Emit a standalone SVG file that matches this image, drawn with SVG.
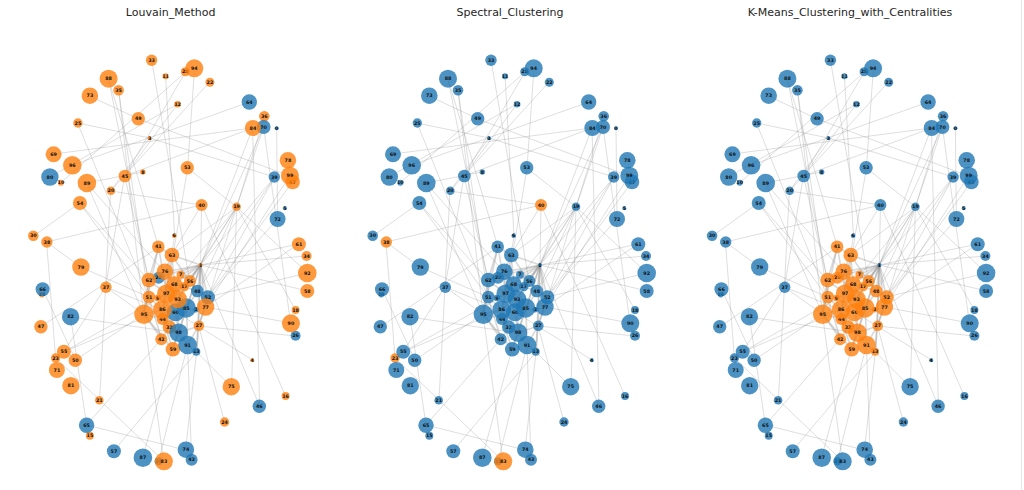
<svg xmlns="http://www.w3.org/2000/svg" width="1024" height="490" viewBox="0 0 1024 490">
<style>
.t{font-family:"DejaVu Sans",sans-serif;font-size:11px;fill:#262626;text-anchor:middle}
.b circle{fill:#1f77b4;fill-opacity:.8}
.o circle{fill:#ff7f0e;fill-opacity:.8}
text.l{font-family:"DejaVu Sans",sans-serif;font-size:4.8px;font-weight:bold;fill:#111;text-anchor:middle;dominant-baseline:central}
#E path{stroke:#888;stroke-opacity:.35;stroke-width:.8;fill:none}
#E path.h{stroke-width:1.6;stroke-opacity:.32}
</style>
<defs>
<g id="E">
<path d="M131 60L169 281"/><path d="M145 76L154 236"/><path d="M165 72L104 176"/><path d="M165 72L40 183"/><path d="M174 68L167 168"/><path d="M189 82L90 191"/><path d="M157 104L29 177"/><path d="M157 104L104 176"/><path d="M88 79L128 280"/><path d="M88 79L138 247"/><path d="M98 90L128 297"/><path d="M98 90L123 314"/><path d="M69 96L118 119"/><path d="M118 119L269 176"/><path d="M57 123L129 138"/><path d="M57 123L128 297"/><path d="M232 128L33 154"/><path d="M129 138L90 191"/><path d="M254 177L129 138"/><path d="M232 128L104 176"/><path d="M232 128L239 406"/><path d="M232 128L180 265"/><path d="M243 127L180 265"/><path d="M243 127L216 207"/><path d="M243 127L270 323"/><path d="M244 116L216 207"/><path d="M256 128L257 219"/><path d="M254 177L180 265"/><path d="M254 177L187 297"/><path d="M254 177L177 291"/><path d="M269 176L185 307"/><path d="M272 182L187 297"/><path d="M167 168L216 207"/><path d="M167 168L146 294"/><path d="M66 183L122 172"/><path d="M104 176L85 287"/><path d="M66 183L123 314"/><path d="M66 183L144 272"/><path d="M90 191L181 205"/><path d="M90 191L85 287"/><path d="M59 203L128 280"/><path d="M59 203L128 297"/><path d="M13 236L59 203"/><path d="M181 205L26 242"/><path d="M181 205L180 265"/><path d="M181 205L151 255"/><path d="M216 207L180 265"/><path d="M216 207L177 291"/><path d="M216 207L185 307"/><path d="M216 207L275 310"/><path d="M216 207L211 387"/><path d="M216 207L151 255"/><path d="M216 207L154 284"/><path d="M216 207L157 299"/><path d="M265 396L181 205"/><path d="M216 207L287 273"/><path d="M257 219L175 310"/><path d="M26 242L60 267"/><path d="M26 242L35 358"/><path d="M60 267L128 297"/><path d="M154 236L151 255"/><path d="M278 244L180 265"/><path d="M278 244L185 307"/><path d="M286 256L180 265"/><path d="M287 291L180 265"/><path d="M287 273L187 297"/><path d="M85 287L123 314"/><path d="M85 287L43 352"/><path d="M85 287L79 400"/><path d="M85 287L142 310"/><path d="M22 289L55 360"/><path d="M20 327L138 247"/><path d="M50 317L158 333"/><path d="M50 317L66 425"/><path d="M270 323L185 307"/><path d="M275 336L178 326"/><path d="M43 352L146 294"/><path d="M43 352L142 310"/><path d="M35 358L143 461"/><path d="M55 360L123 314"/><path d="M232 360L155 312"/><path d="M211 387L176 352"/><path d="M239 406L180 265"/><path d="M204 422L178 326"/><path d="M66 425L141 339"/><path d="M66 425L165 450"/><path d="M93 451L176 352"/><path d="M165 450L176 352"/><path d="M122 458L152 349"/><path d="M143 461L123 314"/><path d="M138 461L167 345"/><path d="M171 460L167 345"/><path d="M52 165L229 102"/><path d="M104 176L128 280"/>
<path class="h" d="M138 247L151 255"/><path class="h" d="M138 247L128 280"/><path class="h" d="M151 255L144 272"/><path class="h" d="M151 255L180 265"/><path class="h" d="M180 265L169 281"/><path class="h" d="M180 265L177 291"/><path class="h" d="M180 265L187 297"/><path class="h" d="M180 265L185 307"/><path class="h" d="M180 265L178 326"/><path class="h" d="M180 265L176 352"/><path class="h" d="M180 265L157 299"/><path class="h" d="M180 265L154 284"/><path class="h" d="M180 265L160 275"/><path class="h" d="M180 265L144 272"/><path class="h" d="M180 265L166 308"/><path class="h" d="M180 265L128 280"/><path class="h" d="M180 265L142 310"/><path class="h" d="M180 265L158 333"/><path class="h" d="M144 272L128 280"/><path class="h" d="M144 272L154 284"/><path class="h" d="M128 280L128 297"/><path class="h" d="M128 280L146 294"/><path class="h" d="M160 275L169 281"/><path class="h" d="M154 284L164 287"/><path class="h" d="M154 284L146 294"/><path class="h" d="M154 284L157 299"/><path class="h" d="M164 287L177 291"/><path class="h" d="M177 291L187 297"/><path class="h" d="M187 297L185 307"/><path class="h" d="M128 297L123 314"/><path class="h" d="M128 297L142 310"/><path class="h" d="M137 298L146 294"/><path class="h" d="M146 294L157 299"/><path class="h" d="M146 294L142 310"/><path class="h" d="M157 299L166 308"/><path class="h" d="M157 299L155 312"/><path class="h" d="M123 314L142 310"/><path class="h" d="M123 314L142 319"/><path class="h" d="M142 310L155 312"/><path class="h" d="M142 310L142 319"/><path class="h" d="M155 312L166 308"/><path class="h" d="M166 308L175 310"/><path class="h" d="M175 310L185 307"/><path class="h" d="M142 319L149 327"/><path class="h" d="M149 327L158 333"/><path class="h" d="M158 333L167 345"/><path class="h" d="M158 333L178 326"/><path class="h" d="M141 339L149 327"/><path class="h" d="M152 349L158 333"/><path class="h" d="M167 345L176 352"/><path class="h" d="M167 345L178 326"/><path class="h" d="M123 314L141 339"/><path class="h" d="M155 312L158 333"/><path class="h" d="M166 308L167 345"/><path class="h" d="M185 307L178 326"/><path class="h" d="M128 280L123 314"/><path class="h" d="M144 272L146 294"/><path class="h" d="M169 281L177 291"/><path class="h" d="M154 284L166 308"/><path class="h" d="M157 299L158 333"/><path class="h" d="M142 319L152 349"/><path class="h" d="M137 298L142 319"/><path class="h" d="M176 352L178 326"/><path class="h" d="M138 247L146 294"/><path class="h" d="M151 255L154 284"/><path class="h" d="M151 255L169 281"/><path class="h" d="M138 247L123 314"/><path class="h" d="M151 255L142 310"/><path class="h" d="M128 297L141 339"/><path class="h" d="M166 308L152 349"/><path class="h" d="M187 297L178 326"/><path class="h" d="M177 291L166 308"/><path class="h" d="M146 294L155 312"/><path class="h" d="M142 310L158 333"/><path class="h" d="M123 314L152 349"/>
</g>
</defs>

<text class="t" x="170.6" y="16">Louvain_Method</text>
<text class="t" x="510" y="16">Spectral_Clustering</text>
<text class="t" x="850" y="16">K-Means_Clustering_with_Centralities</text>

<g id="connectors">
<use href="#E" transform="translate(20.6,0)"/>
<use href="#E" transform="translate(360,0)"/>
<use href="#E" transform="translate(699.4,0)"/>
</g>

<g id="louvain" transform="translate(20.6,0)">
<g id="a0" class="b"><circle cx="256" cy="128.3" r="2"/><text class="l" x="256" y="128.3">0</text></g>
<g id="a1" class="o"><circle cx="180" cy="265" r="2"/><text class="l" x="180" y="265">1</text></g>
<g id="a2" class="b"><circle cx="175.3" cy="309.7" r="2.7"/><text class="l" x="175.3" y="309.7">2</text></g>
<g id="a3" class="o"><circle cx="129" cy="138.3" r="2"/><text class="l" x="129" y="138.3">3</text></g>
<g id="a4" class="o"><circle cx="231.7" cy="360.3" r="2"/><text class="l" x="231.7" y="360.3">4</text></g>
<g id="a5" class="b"><circle cx="264.3" cy="208.3" r="2"/><text class="l" x="264.3" y="208.3">5</text></g>
<g id="a6" class="o"><circle cx="153.7" cy="235.7" r="2.3"/><text class="l" x="153.7" y="235.7">6</text></g>
<g id="a7" class="o"><circle cx="160" cy="274.7" r="4"/><text class="l" x="160" y="274.7">7</text></g>
<g id="a8" class="o"><circle cx="122.3" cy="172" r="2.7"/><text class="l" x="122.3" y="172">8</text></g>
<g id="a9" class="o"><circle cx="137" cy="298" r="3.3"/><text class="l" x="137" y="298">9</text></g>
<g id="a10" class="o"><circle cx="40.3" cy="182.7" r="3"/><text class="l" x="40.3" y="182.7">10</text></g>
<g id="a11" class="o"><circle cx="145" cy="76.3" r="3"/><text class="l" x="145" y="76.3">11</text></g>
<g id="a12" class="o"><circle cx="157" cy="104.3" r="3.3"/><text class="l" x="157" y="104.3">12</text></g>
<g id="a13" class="b"><circle cx="175.7" cy="351.7" r="4"/><text class="l" x="175.7" y="351.7">13</text></g>
<g id="a14" class="o"><circle cx="21.3" cy="294.7" r="2.7"/><text class="l" x="21.3" y="294.7">14</text></g>
<g id="a15" class="o"><circle cx="69.3" cy="435.7" r="4"/><text class="l" x="69.3" y="435.7">15</text></g>
<g id="a16" class="o"><circle cx="265" cy="396" r="4"/><text class="l" x="265" y="396">16</text></g>
<g id="a17" class="o"><circle cx="163.7" cy="286.7" r="4.7"/><text class="l" x="163.7" y="286.7">17</text></g>
<g id="a18" class="o"><circle cx="275" cy="310" r="4"/><text class="l" x="275" y="310">18</text></g>
<g id="a19" class="o"><circle cx="216" cy="206.7" r="4.3"/><text class="l" x="216" y="206.7">19</text></g>
<g id="a20" class="o"><circle cx="90.3" cy="190.7" r="4.3"/><text class="l" x="90.3" y="190.7">20</text></g>
<g id="a21" class="o"><circle cx="78.7" cy="400.3" r="4.3"/><text class="l" x="78.7" y="400.3">21</text></g>
<g id="a22" class="o"><circle cx="189.3" cy="82.3" r="4.5"/><text class="l" x="189.3" y="82.3">22</text></g>
<g id="a23" class="o"><circle cx="35" cy="358" r="4.7"/><text class="l" x="35" y="358">23</text></g>
<g id="a24" class="o"><circle cx="204" cy="422" r="4.7"/><text class="l" x="204" y="422">24</text></g>
<g id="a25" class="o"><circle cx="57.3" cy="123" r="4.7"/><text class="l" x="57.3" y="123">25</text></g>
<g id="a26" class="b"><circle cx="275" cy="335.7" r="5"/><text class="l" x="275" y="335.7">26</text></g>
<g id="a27" class="o"><circle cx="178.3" cy="325.7" r="5.3"/><text class="l" x="178.3" y="325.7">27</text></g>
<g id="a28" class="o"><circle cx="164.7" cy="71.7" r="4.5"/><text class="l" x="164.7" y="71.7">28</text></g>
<g id="a29" class="b"><circle cx="138" cy="277.7" r="6"/><text class="l" x="138" y="277.7">29</text></g>
<g id="a30" class="o"><circle cx="12.7" cy="235.7" r="5.3"/><text class="l" x="12.7" y="235.7">30</text></g>
<g id="a31" class="b"><circle cx="138" cy="461.3" r="4"/><text class="l" x="138" y="461.3">31</text></g>
<g id="a32" class="o"><circle cx="148.7" cy="327" r="6.7"/><text class="l" x="148.7" y="327">32</text></g>
<g id="a33" class="o"><circle cx="131" cy="60.3" r="5.7"/><text class="l" x="131" y="60.3">33</text></g>
<g id="a34" class="o"><circle cx="286" cy="256" r="5"/><text class="l" x="286" y="256">34</text></g>
<g id="a35" class="o"><circle cx="98" cy="90.3" r="5.3"/><text class="l" x="98" y="90.3">35</text></g>
<g id="a36" class="o"><circle cx="243.7" cy="116.3" r="5.3"/><text class="l" x="243.7" y="116.3">36</text></g>
<g id="a37" class="o"><circle cx="85.3" cy="287.3" r="5.7"/><text class="l" x="85.3" y="287.3">37</text></g>
<g id="a38" class="o"><circle cx="26.3" cy="242" r="5.7"/><text class="l" x="26.3" y="242">38</text></g>
<g id="a39" class="b"><circle cx="253.7" cy="177" r="5.7"/><text class="l" x="253.7" y="177">39</text></g>
<g id="a40" class="o"><circle cx="181" cy="205" r="6"/><text class="l" x="181" y="205">40</text></g>
<g id="a41" class="o"><circle cx="137.7" cy="246.7" r="6.3"/><text class="l" x="137.7" y="246.7">41</text></g>
<g id="a42" class="o"><circle cx="140.7" cy="339.3" r="6"/><text class="l" x="140.7" y="339.3">42</text></g>
<g id="a43" class="b"><circle cx="171" cy="459.7" r="6"/><text class="l" x="171" y="459.7">43</text></g>
<g id="a44" class="o"><circle cx="142" cy="319" r="6"/><text class="l" x="142" y="319">44</text></g>
<g id="a45" class="o"><circle cx="104.3" cy="176" r="6.3"/><text class="l" x="104.3" y="176">45</text></g>
<g id="a46" class="b"><circle cx="238.7" cy="406.3" r="6.7"/><text class="l" x="238.7" y="406.3">46</text></g>
<g id="a47" class="o"><circle cx="20.3" cy="326.7" r="6.7"/><text class="l" x="20.3" y="326.7">47</text></g>
<g id="a48" class="b"><circle cx="176.7" cy="291" r="6.3"/><text class="l" x="176.7" y="291">48</text></g>
<g id="a49" class="o"><circle cx="117.7" cy="118.7" r="6.7"/><text class="l" x="117.7" y="118.7">49</text></g>
<g id="a50" class="o"><circle cx="54.7" cy="360.3" r="6.7"/><text class="l" x="54.7" y="360.3">50</text></g>
<g id="a51" class="o"><circle cx="128.3" cy="297" r="6.3"/><text class="l" x="128.3" y="297">51</text></g>
<g id="a52" class="b"><circle cx="187.3" cy="297.3" r="7"/><text class="l" x="187.3" y="297.3">52</text></g>
<g id="a53" class="o"><circle cx="166.7" cy="167.7" r="6.7"/><text class="l" x="166.7" y="167.7">53</text></g>
<g id="a54" class="o"><circle cx="59.3" cy="203" r="7"/><text class="l" x="59.3" y="203">54</text></g>
<g id="a55" class="o"><circle cx="43.3" cy="351.7" r="7"/><text class="l" x="43.3" y="351.7">55</text></g>
<g id="a56" class="o"><circle cx="169.3" cy="281" r="6"/><text class="l" x="169.3" y="281">56</text></g>
<g id="a57" class="b"><circle cx="93.3" cy="451.3" r="7"/><text class="l" x="93.3" y="451.3">57</text></g>
<g id="a58" class="o"><circle cx="286.7" cy="291" r="7"/><text class="l" x="286.7" y="291">58</text></g>
<g id="a59" class="o"><circle cx="152.3" cy="349.3" r="7.3"/><text class="l" x="152.3" y="349.3">59</text></g>
<g id="a60" class="b"><circle cx="155" cy="312.3" r="9"/><text class="l" x="155" y="312.3">60</text></g>
<g id="a61" class="o"><circle cx="278.3" cy="244.3" r="7"/><text class="l" x="278.3" y="244.3">61</text></g>
<g id="a62" class="o"><circle cx="128.3" cy="280" r="7.3"/><text class="l" x="128.3" y="280">62</text></g>
<g id="a63" class="o"><circle cx="151.3" cy="255" r="7.3"/><text class="l" x="151.3" y="255">63</text></g>
<g id="a64" class="b"><circle cx="228.7" cy="102" r="7.7"/><text class="l" x="228.7" y="102">64</text></g>
<g id="a65" class="b"><circle cx="66" cy="425.3" r="7.7"/><text class="l" x="66" y="425.3">65</text></g>
<g id="a66" class="b"><circle cx="22" cy="289.3" r="7"/><text class="l" x="22" y="289.3">66</text></g>
<g id="a67" class="o"><circle cx="272" cy="182" r="7.3"/><text class="l" x="272" y="182">67</text></g>
<g id="a68" class="o"><circle cx="153.7" cy="284.3" r="8"/><text class="l" x="153.7" y="284.3">68</text></g>
<g id="a69" class="o"><circle cx="33" cy="154.3" r="8"/><text class="l" x="33" y="154.3">69</text></g>
<g id="a70" class="b"><circle cx="243" cy="127" r="7"/><text class="l" x="243" y="127">70</text></g>
<g id="a71" class="o"><circle cx="36.3" cy="370" r="8"/><text class="l" x="36.3" y="370">71</text></g>
<g id="a72" class="b"><circle cx="257" cy="219" r="8"/><text class="l" x="257" y="219">72</text></g>
<g id="a73" class="o"><circle cx="69.3" cy="95.7" r="8.3"/><text class="l" x="69.3" y="95.7">73</text></g>
<g id="a74" class="b"><circle cx="165.3" cy="449.7" r="8.3"/><text class="l" x="165.3" y="449.7">74</text></g>
<g id="a75" class="o"><circle cx="210.7" cy="386.7" r="8.7"/><text class="l" x="210.7" y="386.7">75</text></g>
<g id="a76" class="o"><circle cx="144.3" cy="271.7" r="8.3"/><text class="l" x="144.3" y="271.7">76</text></g>
<g id="a77" class="o"><circle cx="185" cy="307" r="8.7"/><text class="l" x="185" y="307">77</text></g>
<g id="a78" class="o"><circle cx="267.3" cy="160.3" r="8.3"/><text class="l" x="267.3" y="160.3">78</text></g>
<g id="a79" class="o"><circle cx="60.3" cy="267" r="8.7"/><text class="l" x="60.3" y="267">79</text></g>
<g id="a80" class="b"><circle cx="29.3" cy="177" r="8.7"/><text class="l" x="29.3" y="177">80</text></g>
<g id="a81" class="o"><circle cx="50.3" cy="385.7" r="8.7"/><text class="l" x="50.3" y="385.7">81</text></g>
<g id="a82" class="b"><circle cx="50" cy="316.7" r="8.7"/><text class="l" x="50" y="316.7">82</text></g>
<g id="a83" class="o"><circle cx="143.3" cy="461.3" r="9"/><text class="l" x="143.3" y="461.3">83</text></g>
<g id="a84" class="o"><circle cx="232.3" cy="128" r="8"/><text class="l" x="232.3" y="128">84</text></g>
<g id="a85" class="b"><circle cx="165.7" cy="308" r="9.7"/><text class="l" x="165.7" y="308">85</text></g>
<g id="a86" class="o"><circle cx="141.7" cy="309.7" r="9.3"/><text class="l" x="141.7" y="309.7">86</text></g>
<g id="a87" class="b"><circle cx="122.3" cy="457.7" r="9.3"/><text class="l" x="122.3" y="457.7">87</text></g>
<g id="a88" class="o"><circle cx="88" cy="78.7" r="9"/><text class="l" x="88" y="78.7">88</text></g>
<g id="a89" class="o"><circle cx="66.3" cy="183" r="9.3"/><text class="l" x="66.3" y="183">89</text></g>
<g id="a90" class="o"><circle cx="270.3" cy="323.3" r="9"/><text class="l" x="270.3" y="323.3">90</text></g>
<g id="a91" class="b"><circle cx="167" cy="345" r="9.3"/><text class="l" x="167" y="345">91</text></g>
<g id="a92" class="o"><circle cx="286.7" cy="273" r="9.3"/><text class="l" x="286.7" y="273">92</text></g>
<g id="a93" class="o"><circle cx="157" cy="299" r="9.3"/><text class="l" x="157" y="299">93</text></g>
<g id="a94" class="o"><circle cx="173.7" cy="68.3" r="9"/><text class="l" x="173.7" y="68.3">94</text></g>
<g id="a95" class="o"><circle cx="123.3" cy="314.3" r="9.7"/><text class="l" x="123.3" y="314.3">95</text></g>
<g id="a96" class="o"><circle cx="51.7" cy="165.3" r="9.3"/><text class="l" x="51.7" y="165.3">96</text></g>
<g id="a97" class="o"><circle cx="145.7" cy="293.7" r="9.3"/><text class="l" x="145.7" y="293.7">97</text></g>
<g id="a98" class="b"><circle cx="158" cy="332.7" r="9.3"/><text class="l" x="158" y="332.7">98</text></g>
<g id="a99" class="o"><circle cx="269.3" cy="175.7" r="9"/><text class="l" x="269.3" y="175.7">99</text></g>
</g>

<g id="spectral" transform="translate(360,0)">
<g id="b0" class="b"><circle cx="256" cy="128.3" r="2"/><text class="l" x="256" y="128.3">0</text></g>
<g id="b1" class="b"><circle cx="180" cy="265" r="2"/><text class="l" x="180" y="265">1</text></g>
<g id="b2" class="b"><circle cx="175.3" cy="309.7" r="2.7"/><text class="l" x="175.3" y="309.7">2</text></g>
<g id="b3" class="b"><circle cx="129" cy="138.3" r="2"/><text class="l" x="129" y="138.3">3</text></g>
<g id="b4" class="b"><circle cx="231.7" cy="360.3" r="2"/><text class="l" x="231.7" y="360.3">4</text></g>
<g id="b5" class="b"><circle cx="264.3" cy="208.3" r="2"/><text class="l" x="264.3" y="208.3">5</text></g>
<g id="b6" class="b"><circle cx="153.7" cy="235.7" r="2.3"/><text class="l" x="153.7" y="235.7">6</text></g>
<g id="b7" class="b"><circle cx="160" cy="274.7" r="4"/><text class="l" x="160" y="274.7">7</text></g>
<g id="b8" class="b"><circle cx="122.3" cy="172" r="2.7"/><text class="l" x="122.3" y="172">8</text></g>
<g id="b9" class="b"><circle cx="137" cy="298" r="3.3"/><text class="l" x="137" y="298">9</text></g>
<g id="b10" class="b"><circle cx="40.3" cy="182.7" r="3"/><text class="l" x="40.3" y="182.7">10</text></g>
<g id="b11" class="b"><circle cx="145" cy="76.3" r="3"/><text class="l" x="145" y="76.3">11</text></g>
<g id="b12" class="b"><circle cx="157" cy="104.3" r="3.3"/><text class="l" x="157" y="104.3">12</text></g>
<g id="b13" class="b"><circle cx="175.7" cy="351.7" r="4"/><text class="l" x="175.7" y="351.7">13</text></g>
<g id="b14" class="b"><circle cx="21.3" cy="294.7" r="2.7"/><text class="l" x="21.3" y="294.7">14</text></g>
<g id="b15" class="b"><circle cx="69.3" cy="435.7" r="4"/><text class="l" x="69.3" y="435.7">15</text></g>
<g id="b16" class="b"><circle cx="265" cy="396" r="4"/><text class="l" x="265" y="396">16</text></g>
<g id="b17" class="b"><circle cx="163.7" cy="286.7" r="4.7"/><text class="l" x="163.7" y="286.7">17</text></g>
<g id="b18" class="b"><circle cx="275" cy="310" r="4"/><text class="l" x="275" y="310">18</text></g>
<g id="b19" class="b"><circle cx="216" cy="206.7" r="4.3"/><text class="l" x="216" y="206.7">19</text></g>
<g id="b20" class="b"><circle cx="90.3" cy="190.7" r="4.3"/><text class="l" x="90.3" y="190.7">20</text></g>
<g id="b21" class="b"><circle cx="78.7" cy="400.3" r="4.3"/><text class="l" x="78.7" y="400.3">21</text></g>
<g id="b22" class="b"><circle cx="189.3" cy="82.3" r="4.5"/><text class="l" x="189.3" y="82.3">22</text></g>
<g id="b23" class="o"><circle cx="35" cy="358" r="4.7"/><text class="l" x="35" y="358">23</text></g>
<g id="b24" class="b"><circle cx="204" cy="422" r="4.7"/><text class="l" x="204" y="422">24</text></g>
<g id="b25" class="b"><circle cx="57.3" cy="123" r="4.7"/><text class="l" x="57.3" y="123">25</text></g>
<g id="b26" class="b"><circle cx="275" cy="335.7" r="5"/><text class="l" x="275" y="335.7">26</text></g>
<g id="b27" class="b"><circle cx="178.3" cy="325.7" r="5.3"/><text class="l" x="178.3" y="325.7">27</text></g>
<g id="b28" class="b"><circle cx="164.7" cy="71.7" r="4.5"/><text class="l" x="164.7" y="71.7">28</text></g>
<g id="b29" class="b"><circle cx="138" cy="277.7" r="6"/><text class="l" x="138" y="277.7">29</text></g>
<g id="b30" class="b"><circle cx="12.7" cy="235.7" r="5.3"/><text class="l" x="12.7" y="235.7">30</text></g>
<g id="b31" class="b"><circle cx="138" cy="461.3" r="4"/><text class="l" x="138" y="461.3">31</text></g>
<g id="b32" class="b"><circle cx="148.7" cy="327" r="6.7"/><text class="l" x="148.7" y="327">32</text></g>
<g id="b33" class="b"><circle cx="131" cy="60.3" r="5.7"/><text class="l" x="131" y="60.3">33</text></g>
<g id="b34" class="b"><circle cx="286" cy="256" r="5"/><text class="l" x="286" y="256">34</text></g>
<g id="b35" class="b"><circle cx="98" cy="90.3" r="5.3"/><text class="l" x="98" y="90.3">35</text></g>
<g id="b36" class="b"><circle cx="243.7" cy="116.3" r="5.3"/><text class="l" x="243.7" y="116.3">36</text></g>
<g id="b37" class="b"><circle cx="85.3" cy="287.3" r="5.7"/><text class="l" x="85.3" y="287.3">37</text></g>
<g id="b38" class="o"><circle cx="26.3" cy="242" r="5.7"/><text class="l" x="26.3" y="242">38</text></g>
<g id="b39" class="b"><circle cx="253.7" cy="177" r="5.7"/><text class="l" x="253.7" y="177">39</text></g>
<g id="b40" class="o"><circle cx="181" cy="205" r="6"/><text class="l" x="181" y="205">40</text></g>
<g id="b41" class="b"><circle cx="137.7" cy="246.7" r="6.3"/><text class="l" x="137.7" y="246.7">41</text></g>
<g id="b42" class="b"><circle cx="140.7" cy="339.3" r="6"/><text class="l" x="140.7" y="339.3">42</text></g>
<g id="b43" class="b"><circle cx="171" cy="459.7" r="6"/><text class="l" x="171" y="459.7">43</text></g>
<g id="b44" class="b"><circle cx="142" cy="319" r="6"/><text class="l" x="142" y="319">44</text></g>
<g id="b45" class="b"><circle cx="104.3" cy="176" r="6.3"/><text class="l" x="104.3" y="176">45</text></g>
<g id="b46" class="b"><circle cx="238.7" cy="406.3" r="6.7"/><text class="l" x="238.7" y="406.3">46</text></g>
<g id="b47" class="b"><circle cx="20.3" cy="326.7" r="6.7"/><text class="l" x="20.3" y="326.7">47</text></g>
<g id="b48" class="b"><circle cx="176.7" cy="291" r="6.3"/><text class="l" x="176.7" y="291">48</text></g>
<g id="b49" class="b"><circle cx="117.7" cy="118.7" r="6.7"/><text class="l" x="117.7" y="118.7">49</text></g>
<g id="b50" class="b"><circle cx="54.7" cy="360.3" r="6.7"/><text class="l" x="54.7" y="360.3">50</text></g>
<g id="b51" class="b"><circle cx="128.3" cy="297" r="6.3"/><text class="l" x="128.3" y="297">51</text></g>
<g id="b52" class="b"><circle cx="187.3" cy="297.3" r="7"/><text class="l" x="187.3" y="297.3">52</text></g>
<g id="b53" class="b"><circle cx="166.7" cy="167.7" r="6.7"/><text class="l" x="166.7" y="167.7">53</text></g>
<g id="b54" class="b"><circle cx="59.3" cy="203" r="7"/><text class="l" x="59.3" y="203">54</text></g>
<g id="b55" class="b"><circle cx="43.3" cy="351.7" r="7"/><text class="l" x="43.3" y="351.7">55</text></g>
<g id="b56" class="b"><circle cx="169.3" cy="281" r="6"/><text class="l" x="169.3" y="281">56</text></g>
<g id="b57" class="b"><circle cx="93.3" cy="451.3" r="7"/><text class="l" x="93.3" y="451.3">57</text></g>
<g id="b58" class="b"><circle cx="286.7" cy="291" r="7"/><text class="l" x="286.7" y="291">58</text></g>
<g id="b59" class="b"><circle cx="152.3" cy="349.3" r="7.3"/><text class="l" x="152.3" y="349.3">59</text></g>
<g id="b60" class="b"><circle cx="155" cy="312.3" r="9"/><text class="l" x="155" y="312.3">60</text></g>
<g id="b61" class="b"><circle cx="278.3" cy="244.3" r="7"/><text class="l" x="278.3" y="244.3">61</text></g>
<g id="b62" class="b"><circle cx="128.3" cy="280" r="7.3"/><text class="l" x="128.3" y="280">62</text></g>
<g id="b63" class="b"><circle cx="151.3" cy="255" r="7.3"/><text class="l" x="151.3" y="255">63</text></g>
<g id="b64" class="b"><circle cx="228.7" cy="102" r="7.7"/><text class="l" x="228.7" y="102">64</text></g>
<g id="b65" class="b"><circle cx="66" cy="425.3" r="7.7"/><text class="l" x="66" y="425.3">65</text></g>
<g id="b66" class="b"><circle cx="22" cy="289.3" r="7"/><text class="l" x="22" y="289.3">66</text></g>
<g id="b67" class="b"><circle cx="272" cy="182" r="7.3"/><text class="l" x="272" y="182">67</text></g>
<g id="b68" class="b"><circle cx="153.7" cy="284.3" r="8"/><text class="l" x="153.7" y="284.3">68</text></g>
<g id="b69" class="b"><circle cx="33" cy="154.3" r="8"/><text class="l" x="33" y="154.3">69</text></g>
<g id="b70" class="b"><circle cx="243" cy="127" r="7"/><text class="l" x="243" y="127">70</text></g>
<g id="b71" class="b"><circle cx="36.3" cy="370" r="8"/><text class="l" x="36.3" y="370">71</text></g>
<g id="b72" class="b"><circle cx="257" cy="219" r="8"/><text class="l" x="257" y="219">72</text></g>
<g id="b73" class="b"><circle cx="69.3" cy="95.7" r="8.3"/><text class="l" x="69.3" y="95.7">73</text></g>
<g id="b74" class="b"><circle cx="165.3" cy="449.7" r="8.3"/><text class="l" x="165.3" y="449.7">74</text></g>
<g id="b75" class="b"><circle cx="210.7" cy="386.7" r="8.7"/><text class="l" x="210.7" y="386.7">75</text></g>
<g id="b76" class="b"><circle cx="144.3" cy="271.7" r="8.3"/><text class="l" x="144.3" y="271.7">76</text></g>
<g id="b77" class="b"><circle cx="185" cy="307" r="8.7"/><text class="l" x="185" y="307">77</text></g>
<g id="b78" class="b"><circle cx="267.3" cy="160.3" r="8.3"/><text class="l" x="267.3" y="160.3">78</text></g>
<g id="b79" class="b"><circle cx="60.3" cy="267" r="8.7"/><text class="l" x="60.3" y="267">79</text></g>
<g id="b80" class="b"><circle cx="29.3" cy="177" r="8.7"/><text class="l" x="29.3" y="177">80</text></g>
<g id="b81" class="b"><circle cx="50.3" cy="385.7" r="8.7"/><text class="l" x="50.3" y="385.7">81</text></g>
<g id="b82" class="b"><circle cx="50" cy="316.7" r="8.7"/><text class="l" x="50" y="316.7">82</text></g>
<g id="b83" class="o"><circle cx="143.3" cy="461.3" r="9"/><text class="l" x="143.3" y="461.3">83</text></g>
<g id="b84" class="b"><circle cx="232.3" cy="128" r="8"/><text class="l" x="232.3" y="128">84</text></g>
<g id="b85" class="b"><circle cx="165.7" cy="308" r="9.7"/><text class="l" x="165.7" y="308">85</text></g>
<g id="b86" class="b"><circle cx="141.7" cy="309.7" r="9.3"/><text class="l" x="141.7" y="309.7">86</text></g>
<g id="b87" class="b"><circle cx="122.3" cy="457.7" r="9.3"/><text class="l" x="122.3" y="457.7">87</text></g>
<g id="b88" class="b"><circle cx="88" cy="78.7" r="9"/><text class="l" x="88" y="78.7">88</text></g>
<g id="b89" class="b"><circle cx="66.3" cy="183" r="9.3"/><text class="l" x="66.3" y="183">89</text></g>
<g id="b90" class="b"><circle cx="270.3" cy="323.3" r="9"/><text class="l" x="270.3" y="323.3">90</text></g>
<g id="b91" class="b"><circle cx="167" cy="345" r="9.3"/><text class="l" x="167" y="345">91</text></g>
<g id="b92" class="b"><circle cx="286.7" cy="273" r="9.3"/><text class="l" x="286.7" y="273">92</text></g>
<g id="b93" class="b"><circle cx="157" cy="299" r="9.3"/><text class="l" x="157" y="299">93</text></g>
<g id="b94" class="b"><circle cx="173.7" cy="68.3" r="9"/><text class="l" x="173.7" y="68.3">94</text></g>
<g id="b95" class="b"><circle cx="123.3" cy="314.3" r="9.7"/><text class="l" x="123.3" y="314.3">95</text></g>
<g id="b96" class="b"><circle cx="51.7" cy="165.3" r="9.3"/><text class="l" x="51.7" y="165.3">96</text></g>
<g id="b97" class="b"><circle cx="145.7" cy="293.7" r="9.3"/><text class="l" x="145.7" y="293.7">97</text></g>
<g id="b98" class="b"><circle cx="158" cy="332.7" r="9.3"/><text class="l" x="158" y="332.7">98</text></g>
<g id="b99" class="b"><circle cx="269.3" cy="175.7" r="9"/><text class="l" x="269.3" y="175.7">99</text></g>
</g>

<g id="kmeans" transform="translate(699.4,0)">
<g id="c0" class="b"><circle cx="256" cy="128.3" r="2"/><text class="l" x="256" y="128.3">0</text></g>
<g id="c1" class="b"><circle cx="180" cy="265" r="2"/><text class="l" x="180" y="265">1</text></g>
<g id="c2" class="o"><circle cx="175.3" cy="309.7" r="2.7"/><text class="l" x="175.3" y="309.7">2</text></g>
<g id="c3" class="b"><circle cx="129" cy="138.3" r="2"/><text class="l" x="129" y="138.3">3</text></g>
<g id="c4" class="b"><circle cx="231.7" cy="360.3" r="2"/><text class="l" x="231.7" y="360.3">4</text></g>
<g id="c5" class="b"><circle cx="264.3" cy="208.3" r="2"/><text class="l" x="264.3" y="208.3">5</text></g>
<g id="c6" class="b"><circle cx="153.7" cy="235.7" r="2.3"/><text class="l" x="153.7" y="235.7">6</text></g>
<g id="c7" class="o"><circle cx="160" cy="274.7" r="4"/><text class="l" x="160" y="274.7">7</text></g>
<g id="c8" class="b"><circle cx="122.3" cy="172" r="2.7"/><text class="l" x="122.3" y="172">8</text></g>
<g id="c9" class="o"><circle cx="137" cy="298" r="3.3"/><text class="l" x="137" y="298">9</text></g>
<g id="c10" class="b"><circle cx="40.3" cy="182.7" r="3"/><text class="l" x="40.3" y="182.7">10</text></g>
<g id="c11" class="b"><circle cx="145" cy="76.3" r="3"/><text class="l" x="145" y="76.3">11</text></g>
<g id="c12" class="b"><circle cx="157" cy="104.3" r="3.3"/><text class="l" x="157" y="104.3">12</text></g>
<g id="c13" class="o"><circle cx="175.7" cy="351.7" r="4"/><text class="l" x="175.7" y="351.7">13</text></g>
<g id="c14" class="b"><circle cx="21.3" cy="294.7" r="2.7"/><text class="l" x="21.3" y="294.7">14</text></g>
<g id="c15" class="b"><circle cx="69.3" cy="435.7" r="4"/><text class="l" x="69.3" y="435.7">15</text></g>
<g id="c16" class="b"><circle cx="265" cy="396" r="4"/><text class="l" x="265" y="396">16</text></g>
<g id="c17" class="o"><circle cx="163.7" cy="286.7" r="4.7"/><text class="l" x="163.7" y="286.7">17</text></g>
<g id="c18" class="b"><circle cx="275" cy="310" r="4"/><text class="l" x="275" y="310">18</text></g>
<g id="c19" class="b"><circle cx="216" cy="206.7" r="4.3"/><text class="l" x="216" y="206.7">19</text></g>
<g id="c20" class="b"><circle cx="90.3" cy="190.7" r="4.3"/><text class="l" x="90.3" y="190.7">20</text></g>
<g id="c21" class="b"><circle cx="78.7" cy="400.3" r="4.3"/><text class="l" x="78.7" y="400.3">21</text></g>
<g id="c22" class="b"><circle cx="189.3" cy="82.3" r="4.5"/><text class="l" x="189.3" y="82.3">22</text></g>
<g id="c23" class="b"><circle cx="35" cy="358" r="4.7"/><text class="l" x="35" y="358">23</text></g>
<g id="c24" class="b"><circle cx="204" cy="422" r="4.7"/><text class="l" x="204" y="422">24</text></g>
<g id="c25" class="b"><circle cx="57.3" cy="123" r="4.7"/><text class="l" x="57.3" y="123">25</text></g>
<g id="c26" class="b"><circle cx="275" cy="335.7" r="5"/><text class="l" x="275" y="335.7">26</text></g>
<g id="c27" class="o"><circle cx="178.3" cy="325.7" r="5.3"/><text class="l" x="178.3" y="325.7">27</text></g>
<g id="c28" class="b"><circle cx="164.7" cy="71.7" r="4.5"/><text class="l" x="164.7" y="71.7">28</text></g>
<g id="c29" class="o"><circle cx="138" cy="277.7" r="6"/><text class="l" x="138" y="277.7">29</text></g>
<g id="c30" class="b"><circle cx="12.7" cy="235.7" r="5.3"/><text class="l" x="12.7" y="235.7">30</text></g>
<g id="c31" class="b"><circle cx="138" cy="461.3" r="4"/><text class="l" x="138" y="461.3">31</text></g>
<g id="c32" class="o"><circle cx="148.7" cy="327" r="6.7"/><text class="l" x="148.7" y="327">32</text></g>
<g id="c33" class="b"><circle cx="131" cy="60.3" r="5.7"/><text class="l" x="131" y="60.3">33</text></g>
<g id="c34" class="b"><circle cx="286" cy="256" r="5"/><text class="l" x="286" y="256">34</text></g>
<g id="c35" class="b"><circle cx="98" cy="90.3" r="5.3"/><text class="l" x="98" y="90.3">35</text></g>
<g id="c36" class="b"><circle cx="243.7" cy="116.3" r="5.3"/><text class="l" x="243.7" y="116.3">36</text></g>
<g id="c37" class="b"><circle cx="85.3" cy="287.3" r="5.7"/><text class="l" x="85.3" y="287.3">37</text></g>
<g id="c38" class="b"><circle cx="26.3" cy="242" r="5.7"/><text class="l" x="26.3" y="242">38</text></g>
<g id="c39" class="b"><circle cx="253.7" cy="177" r="5.7"/><text class="l" x="253.7" y="177">39</text></g>
<g id="c40" class="b"><circle cx="181" cy="205" r="6"/><text class="l" x="181" y="205">40</text></g>
<g id="c41" class="o"><circle cx="137.7" cy="246.7" r="6.3"/><text class="l" x="137.7" y="246.7">41</text></g>
<g id="c42" class="o"><circle cx="140.7" cy="339.3" r="6"/><text class="l" x="140.7" y="339.3">42</text></g>
<g id="c43" class="b"><circle cx="171" cy="459.7" r="6"/><text class="l" x="171" y="459.7">43</text></g>
<g id="c44" class="o"><circle cx="142" cy="319" r="6"/><text class="l" x="142" y="319">44</text></g>
<g id="c45" class="b"><circle cx="104.3" cy="176" r="6.3"/><text class="l" x="104.3" y="176">45</text></g>
<g id="c46" class="b"><circle cx="238.7" cy="406.3" r="6.7"/><text class="l" x="238.7" y="406.3">46</text></g>
<g id="c47" class="b"><circle cx="20.3" cy="326.7" r="6.7"/><text class="l" x="20.3" y="326.7">47</text></g>
<g id="c48" class="o"><circle cx="176.7" cy="291" r="6.3"/><text class="l" x="176.7" y="291">48</text></g>
<g id="c49" class="b"><circle cx="117.7" cy="118.7" r="6.7"/><text class="l" x="117.7" y="118.7">49</text></g>
<g id="c50" class="b"><circle cx="54.7" cy="360.3" r="6.7"/><text class="l" x="54.7" y="360.3">50</text></g>
<g id="c51" class="o"><circle cx="128.3" cy="297" r="6.3"/><text class="l" x="128.3" y="297">51</text></g>
<g id="c52" class="o"><circle cx="187.3" cy="297.3" r="7"/><text class="l" x="187.3" y="297.3">52</text></g>
<g id="c53" class="b"><circle cx="166.7" cy="167.7" r="6.7"/><text class="l" x="166.7" y="167.7">53</text></g>
<g id="c54" class="b"><circle cx="59.3" cy="203" r="7"/><text class="l" x="59.3" y="203">54</text></g>
<g id="c55" class="b"><circle cx="43.3" cy="351.7" r="7"/><text class="l" x="43.3" y="351.7">55</text></g>
<g id="c56" class="o"><circle cx="169.3" cy="281" r="6"/><text class="l" x="169.3" y="281">56</text></g>
<g id="c57" class="b"><circle cx="93.3" cy="451.3" r="7"/><text class="l" x="93.3" y="451.3">57</text></g>
<g id="c58" class="b"><circle cx="286.7" cy="291" r="7"/><text class="l" x="286.7" y="291">58</text></g>
<g id="c59" class="o"><circle cx="152.3" cy="349.3" r="7.3"/><text class="l" x="152.3" y="349.3">59</text></g>
<g id="c60" class="o"><circle cx="155" cy="312.3" r="9"/><text class="l" x="155" y="312.3">60</text></g>
<g id="c61" class="b"><circle cx="278.3" cy="244.3" r="7"/><text class="l" x="278.3" y="244.3">61</text></g>
<g id="c62" class="o"><circle cx="128.3" cy="280" r="7.3"/><text class="l" x="128.3" y="280">62</text></g>
<g id="c63" class="o"><circle cx="151.3" cy="255" r="7.3"/><text class="l" x="151.3" y="255">63</text></g>
<g id="c64" class="b"><circle cx="228.7" cy="102" r="7.7"/><text class="l" x="228.7" y="102">64</text></g>
<g id="c65" class="b"><circle cx="66" cy="425.3" r="7.7"/><text class="l" x="66" y="425.3">65</text></g>
<g id="c66" class="b"><circle cx="22" cy="289.3" r="7"/><text class="l" x="22" y="289.3">66</text></g>
<g id="c67" class="b"><circle cx="272" cy="182" r="7.3"/><text class="l" x="272" y="182">67</text></g>
<g id="c68" class="o"><circle cx="153.7" cy="284.3" r="8"/><text class="l" x="153.7" y="284.3">68</text></g>
<g id="c69" class="b"><circle cx="33" cy="154.3" r="8"/><text class="l" x="33" y="154.3">69</text></g>
<g id="c70" class="b"><circle cx="243" cy="127" r="7"/><text class="l" x="243" y="127">70</text></g>
<g id="c71" class="b"><circle cx="36.3" cy="370" r="8"/><text class="l" x="36.3" y="370">71</text></g>
<g id="c72" class="b"><circle cx="257" cy="219" r="8"/><text class="l" x="257" y="219">72</text></g>
<g id="c73" class="b"><circle cx="69.3" cy="95.7" r="8.3"/><text class="l" x="69.3" y="95.7">73</text></g>
<g id="c74" class="b"><circle cx="165.3" cy="449.7" r="8.3"/><text class="l" x="165.3" y="449.7">74</text></g>
<g id="c75" class="b"><circle cx="210.7" cy="386.7" r="8.7"/><text class="l" x="210.7" y="386.7">75</text></g>
<g id="c76" class="o"><circle cx="144.3" cy="271.7" r="8.3"/><text class="l" x="144.3" y="271.7">76</text></g>
<g id="c77" class="o"><circle cx="185" cy="307" r="8.7"/><text class="l" x="185" y="307">77</text></g>
<g id="c78" class="b"><circle cx="267.3" cy="160.3" r="8.3"/><text class="l" x="267.3" y="160.3">78</text></g>
<g id="c79" class="b"><circle cx="60.3" cy="267" r="8.7"/><text class="l" x="60.3" y="267">79</text></g>
<g id="c80" class="b"><circle cx="29.3" cy="177" r="8.7"/><text class="l" x="29.3" y="177">80</text></g>
<g id="c81" class="b"><circle cx="50.3" cy="385.7" r="8.7"/><text class="l" x="50.3" y="385.7">81</text></g>
<g id="c82" class="b"><circle cx="50" cy="316.7" r="8.7"/><text class="l" x="50" y="316.7">82</text></g>
<g id="c83" class="b"><circle cx="143.3" cy="461.3" r="9"/><text class="l" x="143.3" y="461.3">83</text></g>
<g id="c84" class="b"><circle cx="232.3" cy="128" r="8"/><text class="l" x="232.3" y="128">84</text></g>
<g id="c85" class="o"><circle cx="165.7" cy="308" r="9.7"/><text class="l" x="165.7" y="308">85</text></g>
<g id="c86" class="o"><circle cx="141.7" cy="309.7" r="9.3"/><text class="l" x="141.7" y="309.7">86</text></g>
<g id="c87" class="b"><circle cx="122.3" cy="457.7" r="9.3"/><text class="l" x="122.3" y="457.7">87</text></g>
<g id="c88" class="b"><circle cx="88" cy="78.7" r="9"/><text class="l" x="88" y="78.7">88</text></g>
<g id="c89" class="b"><circle cx="66.3" cy="183" r="9.3"/><text class="l" x="66.3" y="183">89</text></g>
<g id="c90" class="b"><circle cx="270.3" cy="323.3" r="9"/><text class="l" x="270.3" y="323.3">90</text></g>
<g id="c91" class="o"><circle cx="167" cy="345" r="9.3"/><text class="l" x="167" y="345">91</text></g>
<g id="c92" class="b"><circle cx="286.7" cy="273" r="9.3"/><text class="l" x="286.7" y="273">92</text></g>
<g id="c93" class="o"><circle cx="157" cy="299" r="9.3"/><text class="l" x="157" y="299">93</text></g>
<g id="c94" class="b"><circle cx="173.7" cy="68.3" r="9"/><text class="l" x="173.7" y="68.3">94</text></g>
<g id="c95" class="o"><circle cx="123.3" cy="314.3" r="9.7"/><text class="l" x="123.3" y="314.3">95</text></g>
<g id="c96" class="b"><circle cx="51.7" cy="165.3" r="9.3"/><text class="l" x="51.7" y="165.3">96</text></g>
<g id="c97" class="o"><circle cx="145.7" cy="293.7" r="9.3"/><text class="l" x="145.7" y="293.7">97</text></g>
<g id="c98" class="o"><circle cx="158" cy="332.7" r="9.3"/><text class="l" x="158" y="332.7">98</text></g>
<g id="c99" class="b"><circle cx="269.3" cy="175.7" r="9"/><text class="l" x="269.3" y="175.7">99</text></g>
</g>
<path d="M1021.5 0V490" stroke="#e6e6e6" stroke-width="1"/>
</svg>
